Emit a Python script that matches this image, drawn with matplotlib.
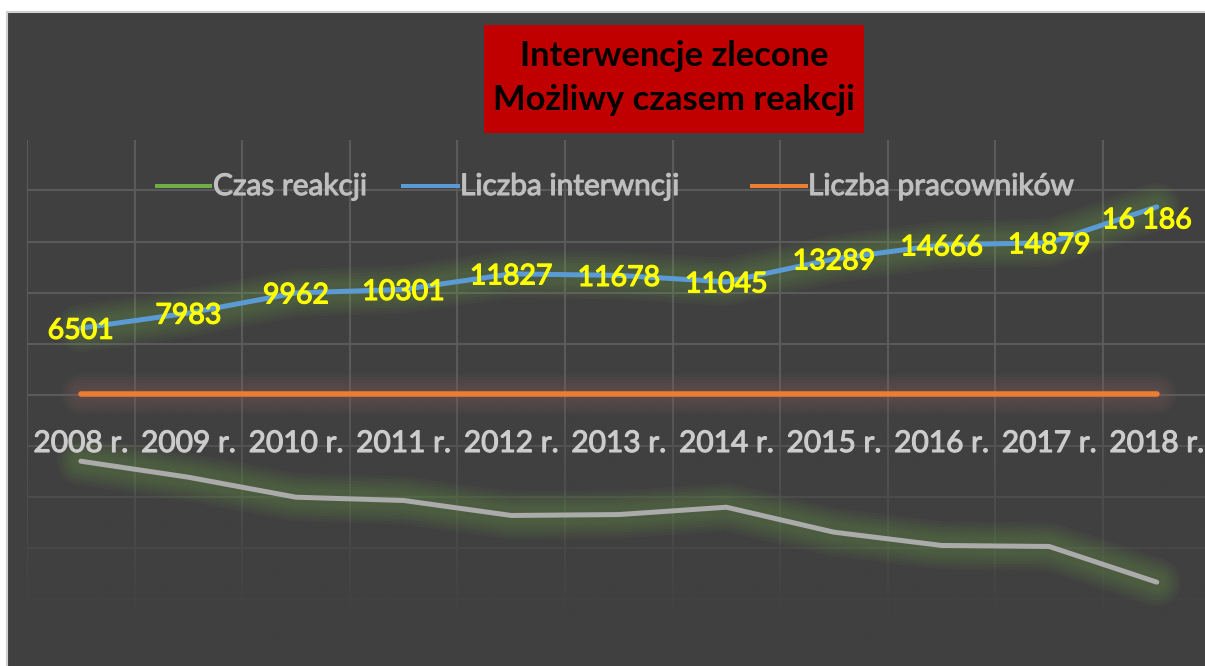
import matplotlib
matplotlib.use('Agg')
import matplotlib.pyplot as plt
import numpy as np
from matplotlib.patches import Rectangle
from matplotlib.lines import Line2D
import matplotlib.patheffects as pe

# ---------------- data ----------------
years = ['2008 r.', '2009 r.', '2010 r.', '2011 r.', '2012 r.', '2013 r.',
         '2014 r.', '2015 r.', '2016 r.', '2017 r.', '2018 r.']
liczba_interwencji = [6501, 7983, 9962, 10301, 11827, 11678, 11045, 13289, 14666, 14879, 18400]
interwencje_labels = ['6501', '7983', '9962', '10301', '11827', '11678', '11045',
                      '13289', '14666', '14879', '16 186']
czas_reakcji = [-6540, -8110, -10070, -10390, -11860, -11770, -11050, -13500, -14800, -14900, -18400]
liczba_pracownikow = [40, 40, 40, 40, 40, 40, 40, 40, 40, 40, 40]
series_names = ['Czas reakcji', 'Liczba interwncji', 'Liczba pracowników']
title_lines = ['Interwencje zlecone', 'Możliwy czasem reakcji']

# ---------------- style ----------------
W, H = 1205, 666
BG = '#404040'
GRID = '#5A5A5A'
FONT = ['Lato', 'DejaVu Sans']
plt.rcParams['font.family'] = FONT

def fx(px):
    return px / W

def fy(py):
    return 1 - py / H

def thick(color, w=1.0):
    return [pe.withStroke(linewidth=w, foreground=color)]

fig = plt.figure(figsize=(W / 100, H / 100), dpi=100)
fig.patch.set_facecolor('white')
fig.patches.append(Rectangle((fx(7.5), -0.05), 1.2, fy(12.5) + 0.05,
                             transform=fig.transFigure, facecolor=BG,
                             edgecolor='#D0D0D0', linewidth=1.5, zorder=-5))

# plot area: x from 27px to 1210.6px, y from 139.5px to 649.5px
ax = fig.add_axes([fx(27), fy(649.5), (1210.6 - 27) / W, 510 / H])
ax.set_facecolor('none')
for s in ax.spines.values():
    s.set_visible(False)

x = np.arange(len(years))
ax.set_xticks(np.arange(-0.5, len(years), 1.0))
ax.set_yticks(np.arange(-25000, 25001, 5000))
ax.tick_params(length=0, labelbottom=False, labelleft=False)
ax.set_axisbelow(True)
ax.grid(True, color=GRID, linewidth=1.5)

# fade of the lower part of the plot area (gridlines fade out below zero)
n = 300
grad = np.zeros((n, 2, 4))
grad[..., :3] = matplotlib.colors.to_rgb(BG)
a = np.linspace(0, 1, n)[:, None] * np.ones((1, 2))
grad[..., 3] = np.clip(a * 1.12, 0, 1) ** 0.85
ax.imshow(grad, extent=(-0.5, len(years) - 0.5, -25000, 0), origin='upper',
          aspect='auto', zorder=1, interpolation='bilinear')
ax.set_xlim(-0.5, len(years) - 0.5)
ax.set_ylim(-25000, 25000)

def glow(color, widths_px, a):
    return [pe.Stroke(linewidth=w * 0.72, foreground=color, alpha=a) for w in widths_px] + [pe.Normal()]

green_glow = glow('#70AD47', [48, 42, 36, 30, 24, 18], 0.055)
orange_glow = glow('#8A6060', [40, 34, 28, 22, 16, 10], 0.075)

ax.plot(x, czas_reakcji, color='#ABABAB', linewidth=5 * 0.72, solid_capstyle='round',
        solid_joinstyle='round', zorder=3, path_effects=green_glow)
ax.plot(x, liczba_pracownikow, color='#ED7D31', linewidth=5.5 * 0.72, solid_capstyle='round',
        zorder=3, path_effects=orange_glow)
ax.plot(x, liczba_interwencji, color='#5B9BD5', linewidth=5 * 0.72, solid_capstyle='round',
        solid_joinstyle='round', zorder=4, path_effects=green_glow)

# data labels
for i, (v, lab) in enumerate(zip(liczba_interwencji, interwencje_labels)):
    dx, dy = (0, 0) if i < len(years) - 1 else (-10, -11)
    ax.annotate(lab, (x[i], v), xytext=(dx * 0.72, dy * 0.72), textcoords='offset points',
                ha='center', va='center_baseline', color='#FFFF00', fontsize=20.5, zorder=6,
                path_effects=thick('#FFFF00', 0.9))

# category labels (axis crosses at zero, labels inside plot area)
tr = ax.get_xaxis_transform()
for i, lab in enumerate(years):
    ax.text(x[i], (649.5 - 452) / 510, lab, transform=tr, ha='center', va='baseline',
            color='#CCCCCC', fontsize=21.5, zorder=6, path_effects=thick('#CCCCCC', 0.8))

# legend
leg = [('#70AD47', 157, 210, 213), ('#5B9BD5', 403, 458, 460), ('#ED7D31', 752, 806, 808)]
for (c, x0, x1, tx), name in zip(leg, series_names):
    fig.add_artist(Line2D([fx(x0), fx(x1)], [fy(186), fy(186)], color=c, linewidth=4 * 0.72,
                          transform=fig.transFigure))
    fig.text(fx(tx), fy(195), name, ha='left', va='baseline', color='#BFBFBF', fontsize=21.5,
             path_effects=thick('#BFBFBF', 0.8))

# title box
fig.patches.append(Rectangle((fx(484), fy(133)), (864 - 484) / W, (133 - 25) / H,
                             transform=fig.transFigure, facecolor='#C00000',
                             edgecolor='none', zorder=2))
fig.text(fx(674), fy(56), title_lines[0], ha='center', va='center', fontsize=24.8,
         fontweight='bold', color='black', zorder=3)
fig.text(fx(674), fy(100), title_lines[1], ha='center', va='center', fontsize=24.8,
         fontweight='bold', color='black', zorder=3)

fig.savefig('out.png', dpi=100, facecolor=fig.get_facecolor())
